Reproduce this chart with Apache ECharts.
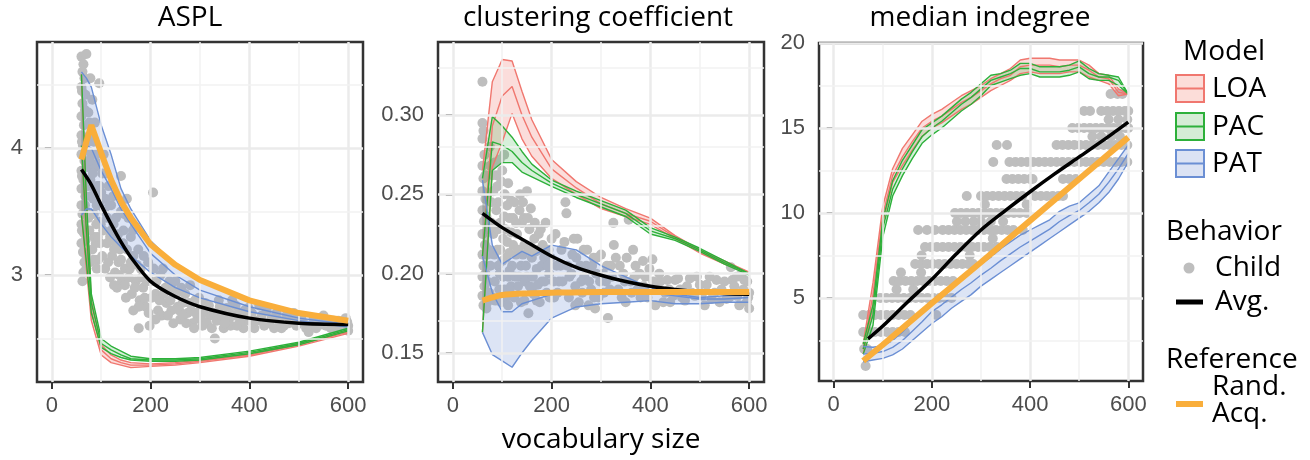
<!DOCTYPE html>
<html>
<head>
<meta charset="utf-8">
<title>network growth models</title>
<script src="https://cdn.jsdelivr.net/npm/echarts@6/dist/echarts.min.js"></script>
<style>
  html, body { margin: 0; padding: 0; background: #fff; }
  #chart { width: 1310px; height: 460px; }
</style>
</head>
<body>
<div id="chart"></div>
<script>
// ---------- data ----------
var panelTitles = ['ASPL', 'clustering coefficient', 'median indegree'];
var xTicks = [0, 200, 400, 600];
var xMinor = [100, 300, 500];
var yTicksA = [3, 4], yMinorA = [2.5, 3.5, 4.5];
var yTicksC = [0.15, 0.20, 0.25, 0.30], yMinorC = [0.175, 0.225, 0.275, 0.325];
var yTicksM = [5, 10, 15, 20], yMinorM = [2.5, 7.5, 12.5, 17.5];

// ASPL
var xsA = [60, 70, 80, 100, 120, 140, 160, 200, 250, 300, 400, 500, 600];
var loaHiA  = [4.58, 3.55, 2.80, 2.45, 2.37, 2.33, 2.31, 2.30, 2.31, 2.33, 2.38, 2.46, 2.56];
var loaMidA = [4.02, 3.30, 2.72, 2.41, 2.34, 2.31, 2.29, 2.29, 2.30, 2.32, 2.37, 2.45, 2.55];
var loaLoA  = [3.47, 3.05, 2.64, 2.37, 2.31, 2.29, 2.27, 2.28, 2.29, 2.31, 2.36, 2.44, 2.54];
var pacHiA  = [4.58, 3.60, 2.85, 2.50, 2.44, 2.40, 2.36, 2.34, 2.34, 2.35, 2.40, 2.47, 2.58];
var pacMidA = [4.02, 3.35, 2.78, 2.46, 2.41, 2.37, 2.34, 2.33, 2.33, 2.34, 2.39, 2.46, 2.57];
var pacLoA  = [3.47, 3.10, 2.70, 2.43, 2.38, 2.35, 2.33, 2.32, 2.32, 2.33, 2.38, 2.45, 2.56];
var patHiA  = [4.60, 4.55, 4.48, 4.18, 3.95, 3.68, 3.52, 3.27, 3.08, 2.95, 2.80, 2.70, 2.62];
var patMidA = [4.02, 4.02, 4.00, 3.82, 3.68, 3.52, 3.40, 3.17, 3.00, 2.88, 2.75, 2.66, 2.61];
var patLoA  = [3.47, 3.52, 3.52, 3.40, 3.30, 3.22, 3.15, 3.02, 2.90, 2.82, 2.71, 2.64, 2.59];
var refA    = [3.91, 4.05, 4.18, 3.96, 3.75, 3.58, 3.45, 3.24, 3.08, 2.96, 2.80, 2.70, 2.64];
var avgXA   = [60, 80, 100, 120, 140, 160, 200, 250, 300, 400, 500, 600];
var avgA    = [3.83, 3.71, 3.55, 3.40, 3.26, 3.14, 2.95, 2.83, 2.75, 2.66, 2.62, 2.61];
var childA = [
  [60,4.72],[64,4.66],[70,4.74],[62,4.60],[66,4.55],[60,4.48],[68,4.42],[62,4.35],[60,4.25],[65,4.18],
  [60,4.10],[63,4.02],[60,3.95],[66,3.90],[60,3.82],[64,3.75],[60,3.68],[68,3.62],[60,3.55],[62,3.48],
  [60,3.40],[65,3.33],[60,3.25],[63,3.18],[66,3.10],[62,2.95],[70,3.05],[72,3.85],[74,4.28],[70,3.50],
  [61,4.45],[67,4.30],[61,4.05],[69,3.98],[61,3.78],[67,3.55],[61,3.35],[69,3.28],[64,3.02],[70,3.15],
  [73,3.70],[74,3.45],[73,4.05],
  [78,4.55],[82,4.38],[76,4.20],[85,4.05],[80,3.95],[88,3.85],[78,3.75],[92,3.70],[84,3.60],[96,3.55],
  [80,3.48],[90,3.40],[86,3.30],[98,3.25],[82,3.20],[94,3.12],[96,4.51],[90,3.95],[100,3.65],[76,3.35],
  [77,3.90],[83,3.80],[87,3.68],[91,3.55],[95,3.42],[79,3.62],[85,3.48],[89,3.25],[93,3.30],[99,3.40],
  [97,3.70],[81,4.10],[87,4.20],[93,3.88],[77,3.10],[85,3.12],[91,3.05],
  [105,3.95],[110,3.80],[115,3.70],[108,3.60],[120,3.55],[112,3.45],[125,3.40],[118,3.30],[130,3.25],[122,3.15],
  [135,3.10],[128,3.02],[140,3.78],[140,3.50],[145,3.35],[138,3.20],[148,3.05],[142,2.95],[132,2.90],[104,3.35],
  [102,3.80],[106,3.50],[112,3.25],[116,3.55],[120,3.35],[124,3.62],[126,3.20],[130,3.45],[134,3.32],[136,3.00],
  [140,3.12],[144,3.25],[146,3.48],[148,2.92],[114,3.10],[108,3.05],[118,2.98],[126,2.92],[102,3.15],
  [155,3.45],[160,3.30],[165,3.15],[158,3.05],[170,2.95],[162,2.85],[175,3.20],[180,3.05],[185,2.90],[178,2.80],
  [190,2.75],[176,2.58],[195,3.10],[200,2.95],[205,3.65],[210,2.85],[215,2.72],[220,3.00],[152,3.60],[168,3.38],
  [152,3.20],[156,2.98],[160,3.10],[164,3.35],[168,2.90],[172,3.08],[176,2.75],[182,2.98],[186,3.15],[188,2.82],
  [192,2.95],[196,2.70],[202,2.82],[206,3.05],[212,2.95],[218,2.80],[222,2.68],[226,2.85],[232,2.78],[238,2.95],
  [242,2.72],[246,2.62],[150,2.82],[165,2.72],[198,2.60],[210,2.65],
  [230,2.90],[240,2.80],[235,2.68],[250,2.95],[255,2.75],[260,2.65],[270,2.85],[275,2.70],[285,2.62],[290,2.80],
  [300,2.72],[305,2.60],[310,2.78],[320,2.68],[330,2.50],[225,3.05],[245,2.88],[265,2.78],[280,2.92],[295,2.66],
  [252,2.85],[258,2.72],[262,2.90],[266,2.68],[272,2.62],[278,2.78],[282,2.72],[288,2.58],[292,2.70],[298,2.82],
  [302,2.66],[308,2.72],[314,2.62],[318,2.76],[324,2.58],[328,2.70],[334,2.64],[338,2.80],[344,2.68],[348,2.58],
  [354,2.74],[358,2.64],[362,2.60],[368,2.68],[372,2.76],[378,2.70],[384,2.62],[388,2.58],[394,2.68],[398,2.74],
  [340,2.75],[350,2.62],[360,2.70],[375,2.60],[390,2.72],[400,2.64],[410,2.58],[425,2.68],[440,2.62],[455,2.70],
  [470,2.60],[485,2.66],[500,2.62],[515,2.58],[530,2.65],[545,2.61],[560,2.63],[575,2.58],[590,2.62],[600,2.60],
  [595,2.66],[580,2.64],[365,2.80],[380,2.66],[420,2.76],[450,2.58],[490,2.70],[550,2.68],[520,2.55],[600,2.56],
  [405,2.70],[415,2.64],[430,2.60],[435,2.72],[445,2.66],[460,2.64],[465,2.58],[475,2.68],[480,2.62],[495,2.60],
  [505,2.66],[510,2.62],[525,2.60],[535,2.58],[540,2.66],[555,2.60],[565,2.58],[570,2.64],[585,2.60],[598,2.63]
];

// clustering coefficient
var xsC = [60, 80, 100, 120, 140, 160, 200, 250, 300, 350, 400, 450, 500, 550, 600];
var loaHiC  = [0.265, 0.321, 0.335, 0.334, 0.315, 0.297, 0.272, 0.258, 0.248, 0.241, 0.235, 0.224, 0.215, 0.208, 0.201];
var loaMidC = [0.211, 0.293, 0.312, 0.318, 0.300, 0.286, 0.266, 0.254, 0.244, 0.238, 0.233, 0.223, 0.214, 0.207, 0.200];
var loaLoC  = [0.163, 0.267, 0.283, 0.301, 0.285, 0.274, 0.260, 0.250, 0.241, 0.236, 0.231, 0.222, 0.213, 0.206, 0.200];
var pacHiC  = [0.260, 0.299, 0.293, 0.286, 0.277, 0.269, 0.259, 0.252, 0.246, 0.240, 0.229, 0.223, 0.216, 0.208, 0.200];
var pacMidC = [0.211, 0.283, 0.281, 0.277, 0.270, 0.265, 0.257, 0.250, 0.244, 0.238, 0.227, 0.222, 0.215, 0.207, 0.200];
var pacLoC  = [0.163, 0.265, 0.270, 0.270, 0.264, 0.261, 0.255, 0.248, 0.242, 0.236, 0.225, 0.221, 0.214, 0.206, 0.199];
var patHiC  = [0.259, 0.218, 0.206, 0.210, 0.214, 0.211, 0.218, 0.215, 0.205, 0.198, 0.191, 0.187, 0.185, 0.186, 0.187];
var patMidC = [0.211, 0.188, 0.176, 0.176, 0.181, 0.183, 0.187, 0.189, 0.189, 0.189, 0.188, 0.186, 0.184, 0.184, 0.185];
var patLoC  = [0.163, 0.149, 0.145, 0.141, 0.150, 0.158, 0.172, 0.179, 0.181, 0.182, 0.183, 0.181, 0.181, 0.182, 0.182];
var refXC   = [60, 80, 100, 150, 200, 300, 400, 500, 600];
var refC    = [0.183, 0.185, 0.1865, 0.1875, 0.188, 0.1885, 0.1885, 0.1885, 0.1885];
var avgXC   = [60, 100, 150, 200, 250, 300, 350, 400, 450, 500, 550, 600];
var avgC    = [0.238, 0.229, 0.220, 0.211, 0.204, 0.199, 0.195, 0.192, 0.190, 0.1885, 0.1875, 0.187];
var childC = [
  [60,0.321],[60,0.295],[62,0.290],[60,0.285],[64,0.275],[60,0.268],[62,0.260],[60,0.252],[66,0.247],[60,0.240],
  [63,0.233],[60,0.225],[65,0.218],[60,0.212],[62,0.205],[60,0.198],[64,0.192],[60,0.186],[62,0.180],[68,0.178],
  [66,0.262],[70,0.250],[68,0.236],[72,0.228],[70,0.212],[66,0.200],[74,0.188],[70,0.182],[78,0.232],[82,0.252],
  [84,0.212],[86,0.183],[88,0.228],[92,0.245],[94,0.190],[96,0.215],[98,0.258],[102,0.198],[104,0.236],[106,0.228],
  [108,0.185],[110,0.220],[112,0.257],[114,0.213],[116,0.188],[118,0.246],[120,0.205],[76,0.268],[88,0.262],[104,0.275],
  [112,0.198],[92,0.205],
  [75,0.280],[85,0.270],[80,0.262],[95,0.272],[90,0.255],[100,0.265],[105,0.250],[78,0.245],[88,0.240],[110,0.243],
  [96,0.232],[115,0.235],[82,0.225],[102,0.222],[118,0.226],[90,0.215],[108,0.210],[76,0.205],[95,0.200],[115,0.202],
  [85,0.195],[105,0.190],[80,0.185],[98,0.182],[112,0.180],[118,0.192],[72,0.215],[92,0.228],[70,0.195],[100,0.208],
  [125,0.245],[135,0.240],[150,0.252],[140,0.232],[130,0.225],[155,0.228],[145,0.218],[165,0.222],[128,0.212],[160,0.210],
  [175,0.215],[138,0.205],[150,0.198],[170,0.203],[185,0.210],[132,0.192],[160,0.190],[180,0.195],[145,0.183],[170,0.183],
  [190,0.188],[153,0.175],[195,0.200],[200,0.222],[122,0.235],[142,0.245],[126,0.198],[178,0.228],
  [122,0.218],[124,0.185],[128,0.232],[132,0.215],[134,0.198],[136,0.250],[138,0.182],[142,0.212],[144,0.235],[146,0.195],
  [148,0.205],[152,0.235],[154,0.215],[156,0.192],[158,0.241],[162,0.198],[164,0.187],[166,0.232],[168,0.214],[172,0.193],
  [174,0.225],[176,0.182],[180,0.205],[182,0.218],[186,0.195],[188,0.232],[192,0.205],[194,0.215],[196,0.185],[198,0.210],
  [210,0.205],[220,0.215],[230,0.238],[228,0.245],[215,0.195],[240,0.200],[235,0.185],[250,0.210],[260,0.195],[255,0.182],
  [270,0.205],[280,0.190],[275,0.180],[290,0.200],[300,0.212],[295,0.185],[310,0.195],[320,0.205],[314,0.172],[325,0.232],
  [326,0.218],[245,0.222],[265,0.215],[285,0.210],[205,0.185],
  [204,0.195],[208,0.225],[212,0.188],[218,0.205],[222,0.195],[226,0.220],[232,0.205],[236,0.198],[242,0.212],[248,0.192],
  [252,0.222],[258,0.205],[262,0.188],[266,0.198],[272,0.215],[276,0.195],[282,0.205],[286,0.185],[292,0.210],[298,0.195],
  [304,0.200],[306,0.188],[312,0.205],[318,0.190],[322,0.198],[248,0.180],[288,0.178],[330,0.210],
  [335,0.190],[345,0.200],[356,0.234],[350,0.182],[360,0.195],[370,0.205],[380,0.185],[390,0.198],[400,0.190],[404,0.209],
  [410,0.180],[420,0.195],[430,0.188],[440,0.182],[450,0.196],[365,0.215],[385,0.208],
  [338,0.205],[342,0.185],[348,0.195],[352,0.210],[362,0.188],[368,0.198],[374,0.190],[378,0.200],[386,0.192],[394,0.185],
  [398,0.203],[406,0.195],[414,0.190],[418,0.200],[426,0.182],[434,0.196],[438,0.190],[446,0.186],[456,0.197],[464,0.185],
  [474,0.192],[484,0.188],[494,0.198],[504,0.186],[514,0.193],[524,0.184],[534,0.196],[544,0.190],[554,0.184],[566,0.196],
  [576,0.186],[588,0.190],[596,0.195],[598,0.185],
  [460,0.190],[470,0.183],[480,0.197],[490,0.186],[500,0.193],[510,0.180],[520,0.198],[530,0.188],[540,0.182],[550,0.195],
  [560,0.185],[563,0.204],[570,0.192],[580,0.180],[590,0.196],[600,0.188],[595,0.182],[585,0.200],[600,0.178],[575,0.198]
];

// median indegree
var xsM = [60, 80, 100, 120, 140, 160, 180, 200, 220, 240, 260, 280, 300, 320, 340, 360, 380, 400, 420, 440, 460, 480, 500, 520, 540, 560, 580, 600];
var loaHiM  = [2.3, 5.9, 10.4, 12.6, 13.8, 14.6, 15.4, 15.8, 16.1, 16.5, 16.9, 17.2, 17.5, 17.9, 18.2, 18.5, 19.0, 19.1, 19.1, 19.1, 19.0, 19.0, 19.0, 18.7, 18.2, 18.1, 17.3, 17.0];
var loaMidM = [2.0, 5.2, 9.9, 12.2, 13.3, 14.2, 15.0, 15.4, 15.7, 16.1, 16.5, 16.8, 17.2, 17.6, 17.9, 18.1, 18.6, 18.7, 18.7, 18.7, 18.6, 18.7, 18.7, 18.4, 18.0, 17.9, 17.1, 17.0];
var loaLoM  = [1.7, 4.6, 9.4, 11.8, 12.8, 13.7, 14.5, 15.0, 15.3, 15.7, 16.1, 16.4, 16.8, 17.2, 17.5, 17.8, 18.2, 18.3, 18.2, 18.2, 18.2, 18.3, 18.3, 18.0, 17.8, 17.6, 16.9, 17.0];
var pacHiM  = [2.3, 4.6, 9.6, 11.9, 13.1, 14.0, 14.9, 15.3, 15.7, 16.2, 16.7, 17.1, 17.6, 18.1, 18.2, 18.4, 18.8, 18.8, 18.6, 18.6, 18.6, 18.7, 18.95, 18.5, 18.2, 18.1, 18.0, 17.0];
var pacMidM = [2.0, 4.0, 9.1, 11.4, 12.6, 13.6, 14.5, 15.0, 15.4, 15.9, 16.4, 16.8, 17.3, 17.8, 18.0, 18.2, 18.5, 18.5, 18.3, 18.3, 18.3, 18.4, 18.6, 18.2, 18.0, 18.0, 17.8, 17.0];
var pacLoM  = [1.7, 3.4, 8.6, 11.0, 12.2, 13.2, 14.1, 14.6, 15.0, 15.5, 16.0, 16.4, 16.9, 17.5, 17.7, 17.9, 18.1, 18.2, 18.0, 18.0, 18.0, 18.1, 18.3, 17.9, 17.8, 17.8, 17.5, 17.0];
var patHiM  = [2.15, 2.1, 2.2, 2.5, 3.0, 3.6, 4.2, 4.9, 5.3, 5.7, 6.2, 6.6, 7.0, 7.4, 7.9, 8.3, 8.7, 9.0, 9.3, 9.6, 10.1, 10.4, 10.6, 11.1, 11.6, 12.4, 13.2, 14.0];
var patMidM = [1.7, 1.75, 1.85, 2.1, 2.5, 3.05, 3.6, 4.2, 4.6, 5.05, 5.5, 5.9, 6.35, 6.75, 7.2, 7.6, 8.0, 8.35, 8.7, 9.05, 9.5, 9.85, 10.15, 10.6, 11.1, 11.8, 12.6, 13.5];
var patLoM  = [1.25, 1.35, 1.45, 1.65, 2.0, 2.5, 3.0, 3.5, 3.9, 4.4, 4.8, 5.2, 5.7, 6.1, 6.5, 6.9, 7.3, 7.7, 8.1, 8.5, 8.9, 9.3, 9.7, 10.1, 10.6, 11.2, 12.0, 13.0];
var refXM   = [60, 100, 200, 300, 400, 500, 600];
var refM    = [1.3, 2.25, 4.7, 7.1, 9.55, 12.0, 14.45];
var avgXM   = [70, 100, 150, 200, 250, 300, 350, 400, 450, 500, 550, 600];
var avgM    = [2.6, 3.35, 4.75, 6.1, 7.6, 9.0, 10.15, 11.25, 12.3, 13.3, 14.3, 15.35];
var childM = [
  [65,1],[62,2],[68,2],
  [60,3],[72,3],[84,3],[96,3],[108,3],[120,3],[132,3],[145,3],
  [60,4],[72,4],[84,4],[96,4],[108,4],[120,4],[132,4],[144,4],[156,4],[209,4],
  [95,5],[107,5],[119,5],[131,5],[143,5],[155,5],[167,5],[179,5],[191,5],[203,5],[215,5],[227,5],[240,5],
  [128,5.5],[162,5.5],
  [122,6],[134,6],[146,6],[158,6],[170,6],[182,6],[194,6],[206,6],[218,6],[230,6],[243,6],
  [137,6.5],[178,6.5],
  [166,7],[178,7],[190,7],[202,7],[214,7],[226,7],[238,7],[250,7],[262,7],[274,7],[284,7],
  [179,7.5],[277,7.5],
  [186,8],[198,8],[210,8],[222,8],[234,8],[246,8],[258,8],[270,8],[282,8],[294,8],[306,8],[318,8],[332,8],
  [324,8.5],
  [172,9],[190,9],[206,9],[222,9],[234,9],[246,9],[258,9],[270,9],[282,9],[294,9],[306,9],[318,9],[330,9],[342,9],[354,9],[366,9],[385,9],
  [251,9.5],[268,9.5],[285,9.5],[300,9.5],[320,9.5],[345,9.5],
  [247,10],[259,10],[271,10],[283,10],[295,10],[307,10],[319,10],[331,10],[343,10],[355,10],[367,10],[379,10],[393,10],
  [308,10.5],[393,10.5],
  [271,11],[300,11],[312,11],[324,11],[336,11],[348,11],[360,11],[372,11],[384,11],[410,11],[422,11],[434,11],[446,11],[458,11],[467,11],
  [352,12],[364,12],[376,12],[388,12],[400,12],[405,12],[467,12],[480,12],[493,12],
  [325,13],[358,13],[370,13],[382,13],[394,13],[406,13],[418,13],[430,13],[442,13],[454,13],[466,13],[478,13],[490,13],[502,13],[514,13],[526,13],[538,13],[550,13],[562,13],[574,13],[586,13],[598,13],
  [332,14],[353,14],[454,14],[466,14],[478,14],[490,14],[502,14],[514,14],[526,14],[538,14],[550,14],[562,14],[574,14],[586,14],[598,14],
  [527,14.5],[545,14.5],[565,14.5],[583,14.5],
  [486,15],[498,15],[510,15],[522,15],[534,15],[546,15],[558,15],[570,15],[582,15],[594,15],[600,15],
  [560,15.5],[580,15.5],[598,15.5],
  [510,16],[522,16],[545,16],[557,16],[569,16],[581,16],[593,16],[600,16],
  [564,17],[578,17],[588,17]
];

// ---------- styling ----------
var models = ['LOA', 'PAC', 'PAT'];
var modelLine = ['#F0776F', '#2DB03A', '#6B8FD4'];
var modelFill = ['rgba(240,119,111,0.25)', 'rgba(45,176,58,0.19)', 'rgba(107,143,212,0.24)'];
var modelKey = ['#FCDDD9', '#D5ECD5', '#DCE3F4'];
var orange = '#F9AE3B';
var pointGray = '#BEBEBE';
var titleFont = '"Open Sans", "Noto Sans", sans-serif';
var tickFont = '"Liberation Sans", Arial, sans-serif';

var grids = [
  { left: 37, top: 42, width: 326, height: 340 },
  { left: 438, top: 42, width: 326, height: 340 },
  { left: 819, top: 43, width: 324, height: 338 }
];
var yRanges = [[2.157, 4.835], [0.1317, 0.346], [0.118, 20.0]];
var yTicks = [yTicksA, yTicksC, yTicksM];
var yMinors = [yMinorA, yMinorC, yMinorM];

function pairs(xs, ys) { return xs.map(function (x, i) { return [x, ys[i]]; }); }

function gridLines(gi) {
  var major = { color: '#EBEBEB', width: 2.5, type: 'solid' };
  var minor = { color: '#F2F2F2', width: 1.5, type: 'solid' };
  var items = [];
  xTicks.forEach(function (v) { items.push({ xAxis: v, lineStyle: major }); });
  xMinor.forEach(function (v) { items.push({ xAxis: v, lineStyle: minor }); });
  yTicks[gi].forEach(function (v) { items.push({ yAxis: v, lineStyle: major }); });
  yMinors[gi].forEach(function (v) { items.push({ yAxis: v, lineStyle: minor }); });
  return {
    type: 'line', xAxisIndex: gi, yAxisIndex: gi, data: [], z: 1, silent: true,
    markLine: { silent: true, symbol: ['none', 'none'], label: { show: false }, animation: false, data: items }
  };
}

function ribbon(gi, xs, lo, hi, fill) {
  return {
    type: 'custom', xAxisIndex: gi, yAxisIndex: gi, z: 3, silent: true, clip: true,
    data: xs.map(function (x, i) { return [x, lo[i], hi[i]]; }),
    renderItem: function (params, api) {
      if (params.dataIndex !== 0) return null;
      var pts = [];
      for (var i = 0; i < xs.length; i++) pts.push(api.coord([xs[i], hi[i]]));
      for (var j = xs.length - 1; j >= 0; j--) pts.push(api.coord([xs[j], lo[j]]));
      return { type: 'polygon', shape: { points: pts }, style: { fill: fill, stroke: null } };
    }
  };
}

function line(gi, xs, ys, color, width, z, smooth) {
  return {
    type: 'line', xAxisIndex: gi, yAxisIndex: gi, data: pairs(xs, ys), z: z, silent: true,
    symbol: 'none', smooth: smooth || false, lineStyle: { color: color, width: width }
  };
}

function points(gi, data) {
  return {
    type: 'scatter', xAxisIndex: gi, yAxisIndex: gi, data: data, z: 2, silent: true,
    symbolSize: 10, itemStyle: { color: pointGray, opacity: 1 }
  };
}

var panels = [
  { xs: xsA, hi: [loaHiA, pacHiA, patHiA], mid: [loaMidA, pacMidA, patMidA], lo: [loaLoA, pacLoA, patLoA],
    child: childA, avgX: avgXA, avg: avgA, refX: xsA, ref: refA },
  { xs: xsC, hi: [loaHiC, pacHiC, patHiC], mid: [loaMidC, pacMidC, patMidC], lo: [loaLoC, pacLoC, patLoC],
    child: childC, avgX: avgXC, avg: avgC, refX: refXC, ref: refC },
  { xs: xsM, hi: [loaHiM, pacHiM, patHiM], mid: [loaMidM, pacMidM, patMidM], lo: [loaLoM, pacLoM, patLoM],
    child: childM, avgX: avgXM, avg: avgM, refX: refXM, ref: refM }
];

var series = [];
var xAxes = [], yAxes = [];
panels.forEach(function (p, gi) {
  series.push(gridLines(gi));
  series.push(points(gi, p.child));
  for (var m = 0; m < 3; m++) series.push(ribbon(gi, p.xs, p.lo[m], p.hi[m], modelFill[m]));
  for (var m2 = 0; m2 < 3; m2++) {
    series.push(line(gi, p.xs, p.lo[m2], modelLine[m2], 1.4, 4));
    series.push(line(gi, p.xs, p.mid[m2], modelLine[m2], 1.4, 4));
    series.push(line(gi, p.xs, p.hi[m2], modelLine[m2], 1.4, 4));
  }
  series.push(line(gi, p.avgX, p.avg, '#000', 3.5, 5, 0.3));
  series.push(line(gi, p.refX, p.ref, orange, 6, 6, gi === 1 ? 0.3 : false));

  xAxes.push({
    gridIndex: gi, type: 'value', min: -30, max: 630,
    axisLine: { show: false }, splitLine: { show: false },
    axisTick: { show: true, customValues: xTicks, length: 7, lineStyle: { color: '#333', width: 2 } },
    axisLabel: { customValues: xTicks, margin: 13, fontSize: 22, color: '#4D4D4D', fontFamily: tickFont }
  });
  yAxes.push({
    gridIndex: gi, type: 'value', min: yRanges[gi][0], max: yRanges[gi][1],
    axisLine: { show: false }, splitLine: { show: false },
    axisTick: { show: true, customValues: yTicks[gi], length: 7, lineStyle: { color: '#333', width: 2 } },
    axisLabel: {
      customValues: yTicks[gi], margin: 14, fontSize: 22, color: '#4D4D4D', fontFamily: tickFont,
      formatter: gi === 1 ? function (v) { return v.toFixed(2); } : function (v) { return String(v); }
    }
  });
});

// ---------- titles and legend ----------
var fs = 28;
function txt(x, y, s, align) {
  return { type: 'text', x: x, y: y, silent: true, z: 10,
    style: { text: s, font: fs + 'px ' + titleFont, fill: '#000', textAlign: align || 'left', textVerticalAlign: 'middle' } };
}
var graphics = [
  txt(190, 18, panelTitles[0], 'center'),
  txt(598, 18, panelTitles[1], 'center'),
  txt(980, 18, panelTitles[2], 'center'),
  txt(601, 440, 'vocabulary size', 'center'),
  txt(1224, 52, 'Model', 'center'),
  txt(1166, 232, 'Behavior'),
  txt(1166, 360, 'Reference')
];
var keyTops = [75, 113, 150];
models.forEach(function (name, m) {
  graphics.push({ type: 'rect', silent: true, z: 10, shape: { x: 1176, y: keyTops[m], width: 28, height: 27 },
    style: { fill: modelKey[m], stroke: modelLine[m], lineWidth: 2 } });
  graphics.push({ type: 'line', silent: true, z: 11, shape: { x1: 1176, y1: keyTops[m] + 13.5, x2: 1204, y2: keyTops[m] + 13.5 },
    style: { stroke: modelLine[m], lineWidth: 2 } });
  graphics.push(txt(1212, keyTops[m] + 14, name));
});
graphics.push({ type: 'circle', silent: true, z: 10, shape: { cx: 1189, cy: 268, r: 5.5 }, style: { fill: pointGray } });
graphics.push(txt(1215, 268, 'Child'));
graphics.push({ type: 'line', silent: true, z: 10, shape: { x1: 1176, y1: 302, x2: 1203, y2: 302 }, style: { stroke: '#000', lineWidth: 5 } });
graphics.push(txt(1215, 302, 'Avg.'));
graphics.push({ type: 'line', silent: true, z: 10, shape: { x1: 1176, y1: 404, x2: 1203, y2: 404 }, style: { stroke: orange, lineWidth: 6 } });
graphics.push(txt(1212, 387, 'Rand.'));
graphics.push(txt(1212, 414, 'Acq.'));

var chart = echarts.init(document.getElementById('chart'), null, { renderer: 'canvas' });
chart.setOption({
  animation: false,
  backgroundColor: '#fff',
  grid: grids.map(function (g) {
    return { left: g.left, top: g.top, width: g.width, height: g.height, show: true,
      backgroundColor: '#fff', borderColor: '#333', borderWidth: 2.5 };
  }),
  xAxis: xAxes,
  yAxis: yAxes,
  series: series,
  graphic: graphics
});
</script>
</body>
</html>
